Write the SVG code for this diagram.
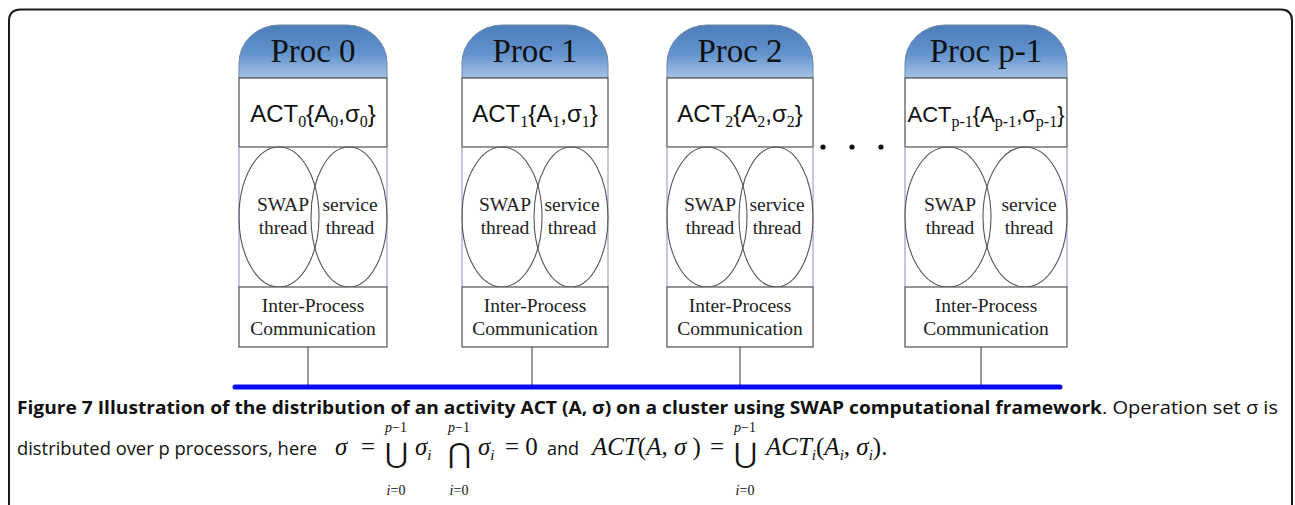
<svg xmlns="http://www.w3.org/2000/svg" width="1295" height="505" viewBox="0 0 1295 505">
<defs>
<linearGradient id="capg" x1="0" y1="0" x2="0" y2="1">
<stop offset="0" stop-color="#4c7dbb"/>
<stop offset="0.55" stop-color="#6393cd"/>
<stop offset="1" stop-color="#a6c3e6"/>
</linearGradient>
</defs>
<style>
.frame{fill:none;stroke:#1a1a1a;stroke-width:2}
.cap{fill:url(#capg);stroke:#6d87a8;stroke-width:1}
.box{fill:#fff;stroke:#505050;stroke-width:1.2}
.side{stroke:#9b9fd6;stroke-width:1.2}
.ell{fill:none;stroke:#555;stroke-width:1.1}
.ptitle{font-family:"Liberation Serif",serif;font-size:33px;fill:#111;text-anchor:middle}
.act{font-family:"Liberation Sans",sans-serif;font-size:24px;fill:#111;text-anchor:middle}
.sub{font-family:"Liberation Serif",serif;font-size:16px}
.lbl{font-family:"Liberation Serif",serif;font-size:19.5px;fill:#222;text-anchor:middle}
.conn{stroke:#555;stroke-width:1.2;fill:none}
.bus{stroke:#0a0af0;stroke-width:5;stroke-linecap:round}
.cap1{font-family:"Open Sans",sans-serif;font-size:18px;fill:#111}
.cb{font-weight:700}
.m{font-family:"Liberation Serif",serif;font-size:25px;fill:#111}
.mi{font-style:italic}
.ms{font-family:"Liberation Serif",serif;font-size:15px;fill:#111}
.big{font-family:"DejaVu Serif",serif;font-size:28px;fill:#111;text-anchor:middle}
.lim{font-family:"Liberation Serif",serif;font-size:14px;fill:#111;text-anchor:middle}
</style>
<path class="frame" d="M9,506 V21 Q9,9.5 21,9.5 H1281 Q1292,9.5 1292,21 V506"/>

<g id="proc0">
<path class="cap" d="M239,78 V63 A40 38 0 0 1 279,25 H347 A40 38 0 0 1 387,63 V78 Z"/>
<text class="ptitle" x="313" y="62">Proc 0</text>
<rect class="box" x="239" y="78" width="148" height="69"/>
<text class="act" x="313" y="122">ACT<tspan class="sub" dy="5">0</tspan><tspan dy="-5">{A</tspan><tspan class="sub" dy="5">0</tspan><tspan dy="-5">,σ</tspan><tspan class="sub" dy="5">0</tspan><tspan dy="-5">}</tspan></text>
<line class="side" x1="239" y1="147" x2="239" y2="287"/>
<line class="side" x1="387" y1="147" x2="387" y2="287"/>
<ellipse class="ell" cx="279" cy="217" rx="40" ry="70"/>
<ellipse class="ell" cx="349" cy="217" rx="38" ry="70"/>
<text class="lbl" x="283" y="211">SWAP</text>
<text class="lbl" x="283" y="234">thread</text>
<text class="lbl" x="350" y="211">service</text>
<text class="lbl" x="350" y="234">thread</text>
<rect class="box" x="239" y="287" width="148" height="60"/>
<text class="lbl" x="313" y="312">Inter-Process</text>
<text class="lbl" x="313" y="335">Communication</text>
</g>

<g id="proc1">
<path class="cap" d="M462,78 V63 A40 38 0 0 1 502,25 H568 A40 38 0 0 1 608,63 V78 Z"/>
<text class="ptitle" x="535" y="62">Proc 1</text>
<rect class="box" x="462" y="78" width="146" height="69"/>
<text class="act" x="535" y="122">ACT<tspan class="sub" dy="5">1</tspan><tspan dy="-5">{A</tspan><tspan class="sub" dy="5">1</tspan><tspan dy="-5">,σ</tspan><tspan class="sub" dy="5">1</tspan><tspan dy="-5">}</tspan></text>
<line class="side" x1="462" y1="147" x2="462" y2="287"/>
<line class="side" x1="608" y1="147" x2="608" y2="287"/>
<ellipse class="ell" cx="502" cy="217" rx="40" ry="70"/>
<ellipse class="ell" cx="571" cy="217" rx="37" ry="70"/>
<text class="lbl" x="505" y="211">SWAP</text>
<text class="lbl" x="505" y="234">thread</text>
<text class="lbl" x="572" y="211">service</text>
<text class="lbl" x="572" y="234">thread</text>
<rect class="box" x="462" y="287" width="146" height="60"/>
<text class="lbl" x="535" y="312">Inter-Process</text>
<text class="lbl" x="535" y="335">Communication</text>
</g>

<g id="proc2">
<path class="cap" d="M667,78 V63 A40 38 0 0 1 707,25 H773 A40 38 0 0 1 813,63 V78 Z"/>
<text class="ptitle" x="740" y="62">Proc 2</text>
<rect class="box" x="667" y="78" width="146" height="69"/>
<text class="act" x="740" y="122">ACT<tspan class="sub" dy="5">2</tspan><tspan dy="-5">{A</tspan><tspan class="sub" dy="5">2</tspan><tspan dy="-5">,σ</tspan><tspan class="sub" dy="5">2</tspan><tspan dy="-5">}</tspan></text>
<line class="side" x1="667" y1="147" x2="667" y2="287"/>
<line class="side" x1="813" y1="147" x2="813" y2="287"/>
<ellipse class="ell" cx="707" cy="217" rx="40" ry="70"/>
<ellipse class="ell" cx="776" cy="217" rx="37" ry="70"/>
<text class="lbl" x="710" y="211">SWAP</text>
<text class="lbl" x="710" y="234">thread</text>
<text class="lbl" x="777" y="211">service</text>
<text class="lbl" x="777" y="234">thread</text>
<rect class="box" x="667" y="287" width="146" height="60"/>
<text class="lbl" x="740" y="312">Inter-Process</text>
<text class="lbl" x="740" y="335">Communication</text>
</g>

<g id="dots">
<circle cx="823" cy="147" r="2.6" fill="#111"/>
<circle cx="852" cy="147" r="2.6" fill="#111"/>
<circle cx="881" cy="147" r="2.6" fill="#111"/>
</g>

<g id="procp1">
<path class="cap" d="M905,78 V63 A40 38 0 0 1 945,25 H1027 A40 38 0 0 1 1067,63 V78 Z"/>
<text class="ptitle" x="986" y="62">Proc p-1</text>
<rect class="box" x="905" y="78" width="162" height="69"/>
<text class="act" x="986" y="122" style="font-size:22px">ACT<tspan class="sub" dy="5">p-1</tspan><tspan dy="-5">{A</tspan><tspan class="sub" dy="5">p-1</tspan><tspan dy="-5">,σ</tspan><tspan class="sub" dy="5">p-1</tspan><tspan dy="-5">}</tspan></text>
<line class="side" x1="905" y1="147" x2="905" y2="287"/>
<line class="side" x1="1067" y1="147" x2="1067" y2="287"/>
<ellipse class="ell" cx="948" cy="217" rx="43" ry="70"/>
<ellipse class="ell" cx="1025" cy="217" rx="42" ry="70"/>
<text class="lbl" x="950" y="211">SWAP</text>
<text class="lbl" x="950" y="234">thread</text>
<text class="lbl" x="1029" y="211">service</text>
<text class="lbl" x="1029" y="234">thread</text>
<rect class="box" x="905" y="287" width="162" height="60"/>
<text class="lbl" x="986" y="312">Inter-Process</text>
<text class="lbl" x="986" y="335">Communication</text>
</g>

<g id="connectors">
<line class="conn" x1="308" y1="347" x2="308" y2="386"/>
<line class="conn" x1="532" y1="347" x2="532" y2="386"/>
<line class="conn" x1="740" y1="347" x2="740" y2="386"/>
<line class="conn" x1="981" y1="347" x2="981" y2="386"/>
<line class="bus" x1="235" y1="387" x2="1060" y2="387"/>
</g>

<g id="caption">
<text class="cap1 cb" x="17" y="414" textLength="1085" lengthAdjust="spacingAndGlyphs">Figure 7 Illustration of the distribution of an activity ACT (A, σ) on a cluster using SWAP computational framework</text>
<text class="cap1" x="1102" y="414" textLength="176" lengthAdjust="spacingAndGlyphs">. Operation set σ is</text>
<text class="cap1" x="17" y="455" textLength="300" lengthAdjust="spacingAndGlyphs">distributed over p processors, here</text>
<text class="m mi" x="335" y="455">σ</text>
<text class="m" x="361" y="455">=</text>
<text class="big" x="396" y="463">⋃</text>
<text class="lim" x="396" y="432"><tspan font-style="italic">p</tspan>−1</text>
<text class="lim" x="396" y="495"><tspan font-style="italic">i</tspan>=0</text>
<text class="m mi" x="415" y="455">σ<tspan class="ms" dy="5">i</tspan></text>
<text class="big" x="459" y="463">⋂</text>
<text class="lim" x="459" y="432"><tspan font-style="italic">p</tspan>−1</text>
<text class="lim" x="459" y="495"><tspan font-style="italic">i</tspan>=0</text>
<text class="m mi" x="478" y="455">σ<tspan class="ms" dy="5">i</tspan></text>
<text class="m" x="505" y="455">= 0</text>
<text class="cap1" x="547" y="455">and</text>
<text class="m" x="592" y="455"><tspan font-style="italic">ACT</tspan>(<tspan font-style="italic">A</tspan>, <tspan font-style="italic">σ</tspan> )</text>
<text class="m" x="710" y="455">=</text>
<text class="big" x="745" y="463">⋃</text>
<text class="lim" x="745" y="432"><tspan font-style="italic">p</tspan>−1</text>
<text class="lim" x="745" y="495"><tspan font-style="italic">i</tspan>=0</text>
<text class="m" x="766" y="455"><tspan font-style="italic">ACT</tspan><tspan class="ms" font-style="italic" dy="5">i</tspan><tspan dy="-5">(</tspan><tspan font-style="italic">A</tspan><tspan class="ms" font-style="italic" dy="5">i</tspan><tspan dy="-5">, </tspan><tspan font-style="italic">σ</tspan><tspan class="ms" font-style="italic" dy="5">i</tspan><tspan dy="-5">).</tspan></text>
</g>
</svg>
